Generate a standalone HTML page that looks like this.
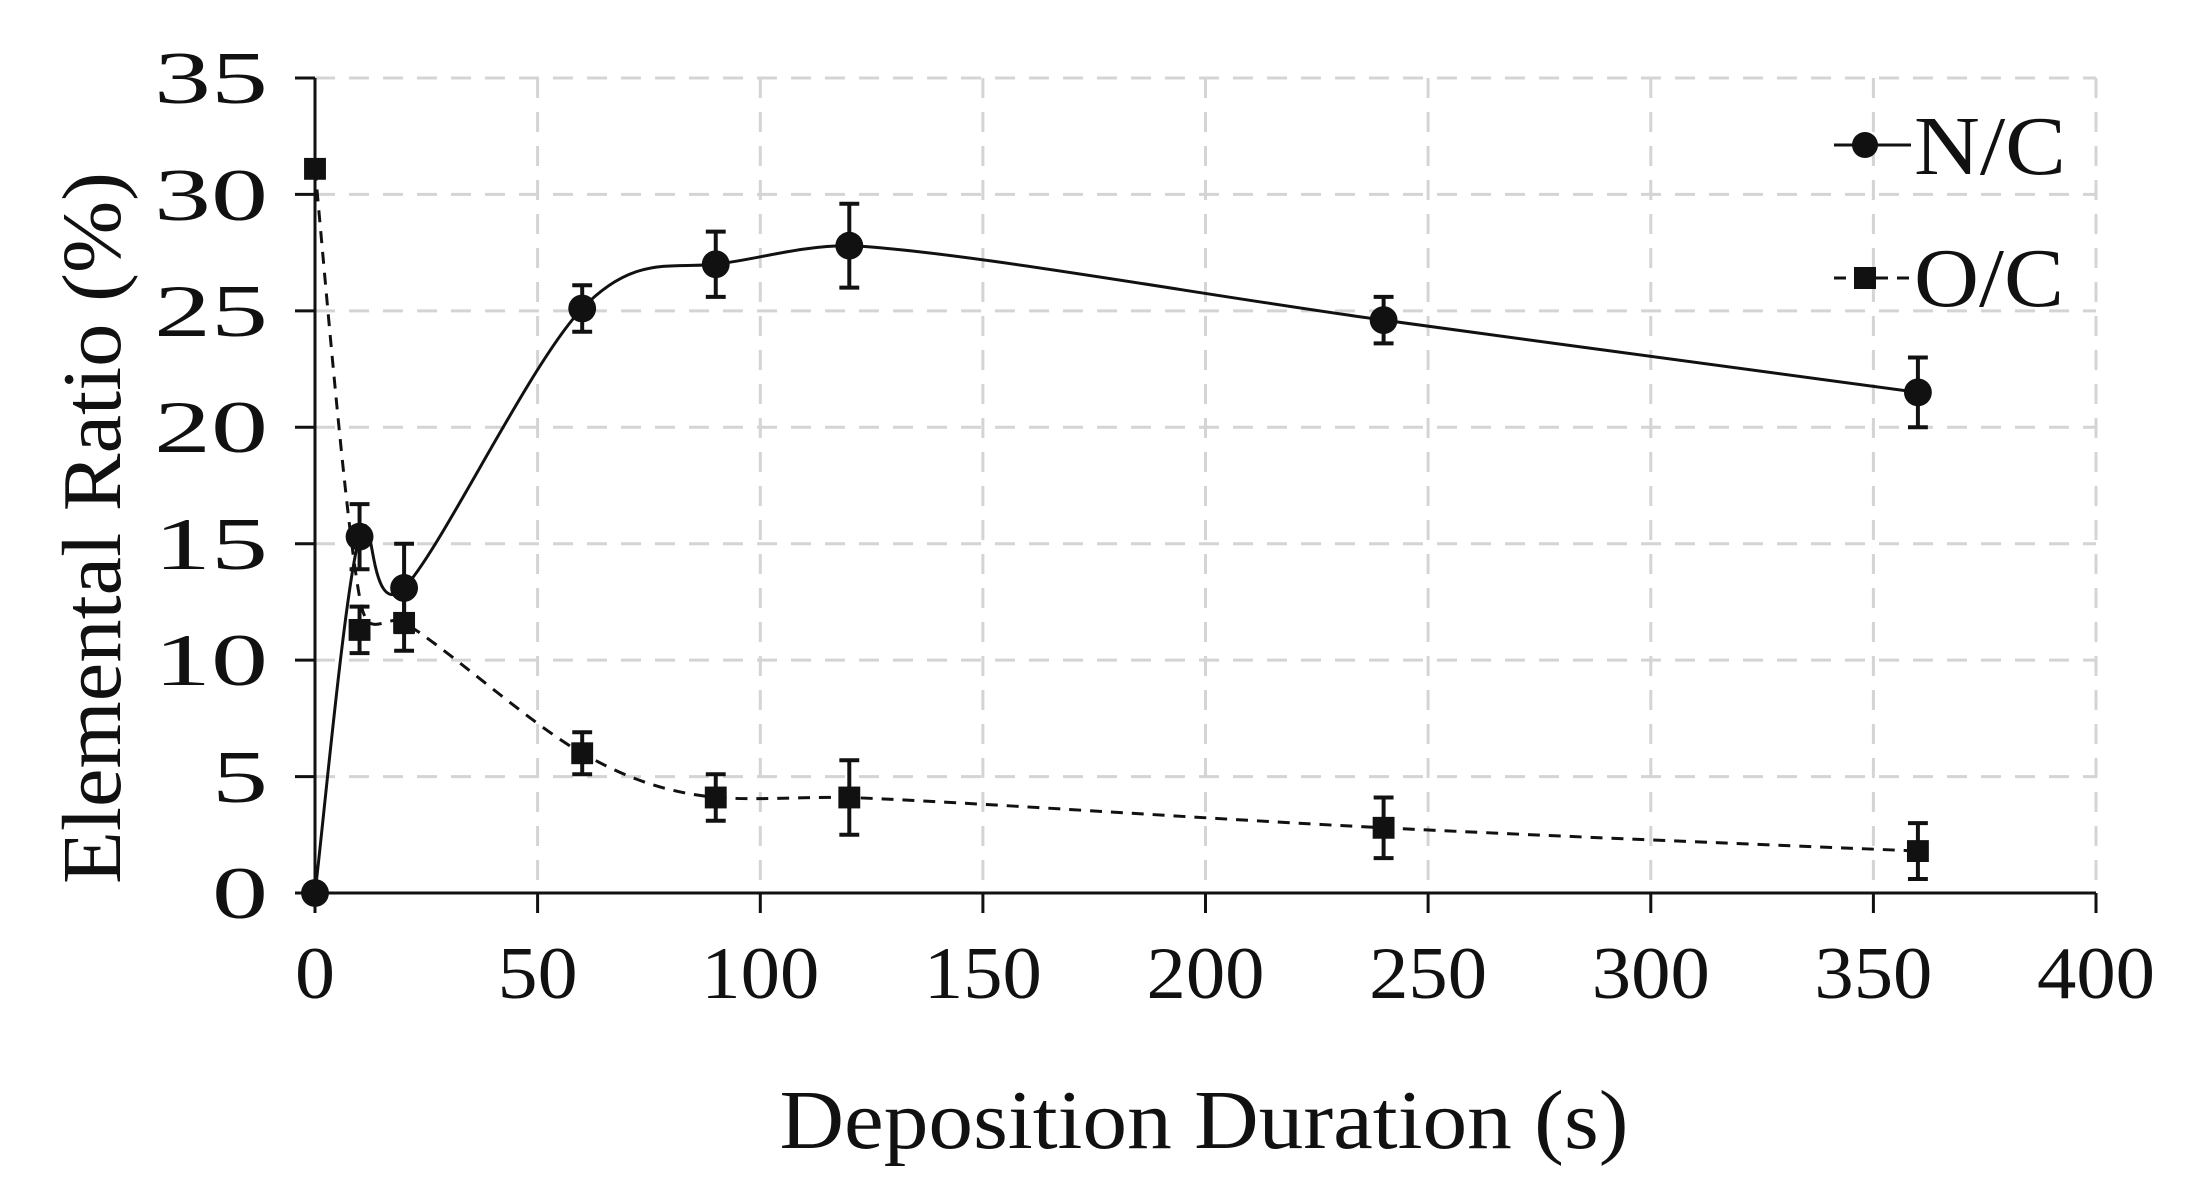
<!DOCTYPE html>
<html><head><meta charset="utf-8"><style>
html,body{margin:0;padding:0;background:#fff;}
svg{display:block;}
text{font-family:"Liberation Serif",serif;fill:#111;}
</style></head><body>
<svg width="2212" height="1204" viewBox="0 0 2212 1204" xmlns="http://www.w3.org/2000/svg">
<g stroke="#d4d4d4" stroke-width="3" stroke-dasharray="20,14" fill="none">
<line x1="315" y1="776.6" x2="2096" y2="776.6"/>
<line x1="315" y1="660.1" x2="2096" y2="660.1"/>
<line x1="315" y1="543.7" x2="2096" y2="543.7"/>
<line x1="315" y1="427.3" x2="2096" y2="427.3"/>
<line x1="315" y1="310.9" x2="2096" y2="310.9"/>
<line x1="315" y1="194.4" x2="2096" y2="194.4"/>
<line x1="315" y1="78" x2="2096" y2="78"/>
<line x1="537.6" y1="78" x2="537.6" y2="893"/>
<line x1="760.3" y1="78" x2="760.3" y2="893"/>
<line x1="982.9" y1="78" x2="982.9" y2="893"/>
<line x1="1205.5" y1="78" x2="1205.5" y2="893"/>
<line x1="1428.1" y1="78" x2="1428.1" y2="893"/>
<line x1="1650.8" y1="78" x2="1650.8" y2="893"/>
<line x1="1873.4" y1="78" x2="1873.4" y2="893"/>
<line x1="2096" y1="78" x2="2096" y2="893"/>
</g>
<g stroke="#111" stroke-width="3" fill="none">
<line x1="315" y1="78" x2="315" y2="913"/>
<line x1="295" y1="893" x2="2096" y2="893"/>
<line x1="295" y1="78" x2="315" y2="78"/>
<line x1="295" y1="194.4" x2="315" y2="194.4"/>
<line x1="295" y1="310.9" x2="315" y2="310.9"/>
<line x1="295" y1="427.3" x2="315" y2="427.3"/>
<line x1="295" y1="543.7" x2="315" y2="543.7"/>
<line x1="295" y1="660.1" x2="315" y2="660.1"/>
<line x1="295" y1="776.6" x2="315" y2="776.6"/>
<line x1="537.6" y1="893" x2="537.6" y2="913"/>
<line x1="760.3" y1="893" x2="760.3" y2="913"/>
<line x1="982.9" y1="893" x2="982.9" y2="913"/>
<line x1="1205.5" y1="893" x2="1205.5" y2="913"/>
<line x1="1428.1" y1="893" x2="1428.1" y2="913"/>
<line x1="1650.8" y1="893" x2="1650.8" y2="913"/>
<line x1="1873.4" y1="893" x2="1873.4" y2="913"/>
<line x1="2096" y1="893" x2="2096" y2="913"/>
</g>
<g font-size="74" text-anchor="end">
<text x="268" y="918" textLength="56" lengthAdjust="spacingAndGlyphs">0</text>
<text x="268" y="802" textLength="56" lengthAdjust="spacingAndGlyphs">5</text>
<text x="268" y="685" textLength="114" lengthAdjust="spacingAndGlyphs">10</text>
<text x="268" y="569" textLength="114" lengthAdjust="spacingAndGlyphs">15</text>
<text x="268" y="452" textLength="114" lengthAdjust="spacingAndGlyphs">20</text>
<text x="268" y="336" textLength="114" lengthAdjust="spacingAndGlyphs">25</text>
<text x="268" y="220" textLength="114" lengthAdjust="spacingAndGlyphs">30</text>
<text x="268" y="103" textLength="114" lengthAdjust="spacingAndGlyphs">35</text>
</g>
<g font-size="74" text-anchor="middle">
<text x="315" y="998" textLength="40" lengthAdjust="spacingAndGlyphs">0</text>
<text x="537.6" y="998" textLength="80" lengthAdjust="spacingAndGlyphs">50</text>
<text x="760.3" y="998" textLength="118" lengthAdjust="spacingAndGlyphs">100</text>
<text x="982.9" y="998" textLength="118" lengthAdjust="spacingAndGlyphs">150</text>
<text x="1205.5" y="998" textLength="118" lengthAdjust="spacingAndGlyphs">200</text>
<text x="1428.1" y="998" textLength="118" lengthAdjust="spacingAndGlyphs">250</text>
<text x="1650.8" y="998" textLength="118" lengthAdjust="spacingAndGlyphs">300</text>
<text x="1873.4" y="998" textLength="118" lengthAdjust="spacingAndGlyphs">350</text>
<text x="2096" y="998" textLength="118" lengthAdjust="spacingAndGlyphs">400</text>
</g>
<text x="1204" y="1148" font-size="84" text-anchor="middle" textLength="849" lengthAdjust="spacingAndGlyphs">Deposition Duration (s)</text>
<text transform="translate(120,528) rotate(-90)" font-size="84" text-anchor="middle" textLength="712" lengthAdjust="spacingAndGlyphs">Elemental Ratio (%)</text>
<g transform="translate(315,78) scale(0.99442,0.9939) translate(-315,-78)">
<path d="M315,898 C322.5,838.3 344.9,590.6 359.8,539.5 C374.7,488.4 367.3,629.4 404.6,591.1 C441.9,552.8 531.5,364.2 583.7,309.9 C635.9,255.6 673.2,270 718,265.4 C762.8,260 800,247 852.3,246.7 C964.2,252 1210.5,297 1389.6,321.6 C1568.7,346.2 1837.3,382.2 1926.9,394.3" fill="none" stroke="#111" stroke-width="3"/>
<path d="M315,169.4 C322.5,246.7 345,520 359.8,600 C368,650 385,615 404.6,626.2 C441.9,646.9 531.5,728.1 583.7,757.4 C635.9,786.7 673.2,797 718,801.9 C762.8,805 800,801 852.3,801.9 C964.2,806 1210.5,823.4 1389.6,832.4 C1568.7,841.4 1837.3,851.9 1926.9,855.8" fill="none" stroke="#111" stroke-width="3" stroke-dasharray="12,9"/>
<g stroke="#111" stroke-width="4">
<path d="M359.8,506.7V572.3M349.8,506.7H369.8M349.8,572.3H369.8"/>
<path d="M404.6,546.6V635.6M394.6,546.6H414.6M394.6,635.6H414.6"/>
<path d="M583.7,286.5V333.3M573.7,286.5H593.7M573.7,333.3H593.7"/>
<path d="M718,232.6V298.2M708,232.6H728M708,298.2H728"/>
<path d="M852.3,204.5V288.9M842.3,204.5H862.3M842.3,288.9H862.3"/>
<path d="M1389.6,298.2V345M1379.6,298.2H1399.6M1379.6,345H1399.6"/>
<path d="M1926.9,359.2V429.4M1916.9,359.2H1936.9M1916.9,429.4H1936.9"/>
<path d="M359.8,609.9V656.7M349.8,609.9H369.8M349.8,656.7H369.8"/>
<path d="M404.6,598.1V654.3M394.6,598.1H414.6M394.6,654.3H414.6"/>
<path d="M583.7,736.3V778.5M573.7,736.3H593.7M573.7,778.5H593.7"/>
<path d="M718,778.5V825.3M708,778.5H728M708,825.3H728"/>
<path d="M852.3,764.4V839.4M842.3,764.4H862.3M842.3,839.4H862.3"/>
<path d="M1389.6,801.9V862.9M1379.6,801.9H1399.6M1379.6,862.9H1399.6"/>
<path d="M1926.9,827.7V883.9M1916.9,827.7H1936.9M1916.9,883.9H1936.9"/>
</g>
<g fill="#111">
<circle cx="315" cy="898" r="14"/>
<circle cx="359.8" cy="539.5" r="14"/>
<circle cx="404.6" cy="591.1" r="14"/>
<circle cx="583.7" cy="309.9" r="14"/>
<circle cx="718" cy="265.4" r="14"/>
<circle cx="852.3" cy="246.7" r="14"/>
<circle cx="1389.6" cy="321.6" r="14"/>
<circle cx="1926.9" cy="394.3" r="14"/>
<rect x="304" y="158.4" width="22" height="22"/>
<rect x="348.8" y="622.3" width="22" height="22"/>
<rect x="393.6" y="615.2" width="22" height="22"/>
<rect x="572.7" y="746.4" width="22" height="22"/>
<rect x="707" y="790.9" width="22" height="22"/>
<rect x="841.3" y="790.9" width="22" height="22"/>
<rect x="1378.6" y="821.4" width="22" height="22"/>
<rect x="1915.9" y="844.8" width="22" height="22"/>
</g>
</g>
<line x1="1834" y1="145" x2="1911" y2="145" stroke="#111" stroke-width="3"/>
<circle cx="1865" cy="145" r="13" fill="#111"/>
<text x="1914" y="174" font-size="84" textLength="152" lengthAdjust="spacingAndGlyphs">N/C</text>
<line x1="1834" y1="278" x2="1911" y2="278" stroke="#111" stroke-width="3" stroke-dasharray="12,9"/>
<rect x="1854" y="267" width="22" height="22" fill="#111"/>
<text x="1914" y="306" font-size="84" textLength="150" lengthAdjust="spacingAndGlyphs">O/C</text>
</svg>
</body></html>
